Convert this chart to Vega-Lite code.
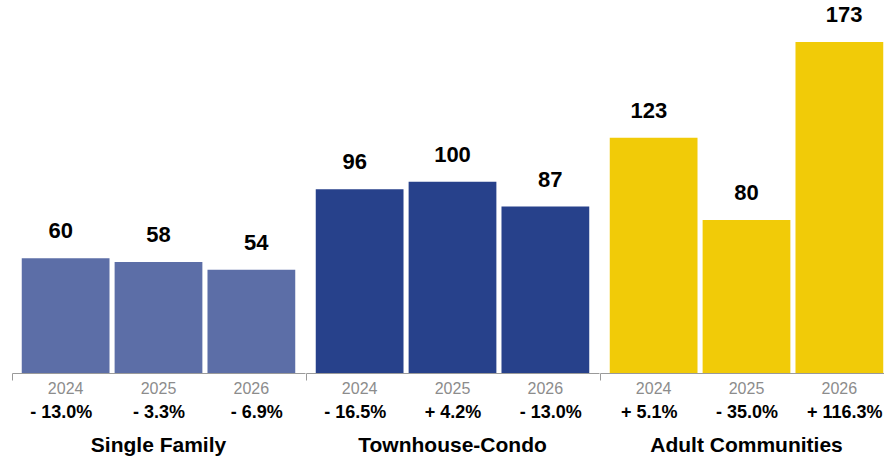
{
  "$schema": "https://vega.github.io/schema/vega-lite/v6.json",
  "padding": {"left": 11, "right": -6, "top": 0, "bottom": 0},
  "data": {
    "values": [
      {"group": "Single Family", "year": "2024", "value": 60, "pct": "- 13.0%"},
      {"group": "Single Family", "year": "2025", "value": 58, "pct": "- 3.3%"},
      {"group": "Single Family", "year": "2026", "value": 54, "pct": "- 6.9%"},
      {"group": "Townhouse-Condo", "year": "2024", "value": 96, "pct": "- 16.5%"},
      {"group": "Townhouse-Condo", "year": "2025", "value": 100, "pct": "+ 4.2%"},
      {"group": "Townhouse-Condo", "year": "2026", "value": 87, "pct": "- 13.0%"},
      {"group": "Adult Communities", "year": "2024", "value": 123, "pct": "+ 5.1%"},
      {"group": "Adult Communities", "year": "2025", "value": 80, "pct": "- 35.0%"},
      {"group": "Adult Communities", "year": "2026", "value": 173, "pct": "+ 116.3%"}
    ]
  },
  "facet": {
    "column": {
      "field": "group",
      "title": null,
      "sort": ["Single Family", "Townhouse-Condo", "Adult Communities"],
      "header": {
        "labelOrient": "bottom",
        "labelFontSize": 21,
        "labelFontWeight": "bold",
        "labelFont": "Liberation Sans",
        "labelColor": "#000000",
        "labelPadding": 14
      }
    }
  },
  "spacing": 0,
  "spec": {
    "width": 293,
    "height": 373,
    "layer": [
      {
        "mark": {"type": "bar"},
        "encoding": {
          "x": {
            "field": "year",
            "type": "nominal",
            "scale": {"paddingInner": 0.055, "paddingOuter": 0.105},
            "axis": {
              "orient": "bottom",
              "title": null,
              "ticks": false,
              "labelAngle": 0,
              "labelPadding": 7,
              "labelFontSize": 16,
              "labelColor": "#8c8c8c",
              "domainColor": "#9a9a9a",
              "domainWidth": 1
            }
          },
          "y": {
            "field": "value",
            "type": "quantitative",
            "scale": {"domain": [0, 195]},
            "axis": null
          },
          "color": {
            "field": "group",
            "type": "nominal",
            "scale": {
              "domain": ["Single Family", "Townhouse-Condo", "Adult Communities"],
              "range": ["#5c6ea7", "#27418b", "#f1cb08"]
            },
            "legend": null
          }
        }
      },
      {
        "mark": {
          "type": "text",
          "baseline": "bottom",
          "dy": -15,
          "fontSize": 22,
          "fontWeight": "bold",
          "color": "#000000"
        },
        "encoding": {
          "x": {
            "field": "pct",
            "type": "nominal",
            "sort": {"field": "year"},
            "scale": {"paddingInner": 0.055, "paddingOuter": 0.105},
            "axis": {
              "orient": "bottom",
              "title": null,
              "ticks": false,
              "domain": false,
              "labelAngle": 0,
              "labelPadding": 30,
              "labelFontSize": 18,
              "labelFontWeight": "bold",
              "labelColor": "#000000"
            }
          },
          "y": {
            "field": "value",
            "type": "quantitative",
            "scale": {"domain": [0, 195]},
            "axis": null
          },
          "text": {"field": "value", "type": "quantitative"}
        }
      },
      {
        "mark": {"type": "rule", "opacity": 0},
        "encoding": {
          "x": {
            "datum": 0,
            "type": "quantitative",
            "scale": {"domain": [0, 1]},
            "axis": {
              "orient": "bottom",
              "title": null,
              "values": [0],
              "labels": false,
              "domain": false,
              "grid": false,
              "ticks": true,
              "tickSize": 7,
              "tickColor": "#9a9a9a",
              "tickWidth": 1
            }
          }
        }
      }
    ],
    "resolve": {"scale": {"x": "independent"}, "axis": {"x": "independent"}}
  },
  "resolve": {"scale": {"x": "independent", "y": "shared"}},
  "config": {
    "font": "Liberation Sans",
    "view": {"stroke": null},
    "axis": {"labelFont": "Liberation Sans"},
    "header": {"labelFont": "Liberation Sans"}
  }
}
